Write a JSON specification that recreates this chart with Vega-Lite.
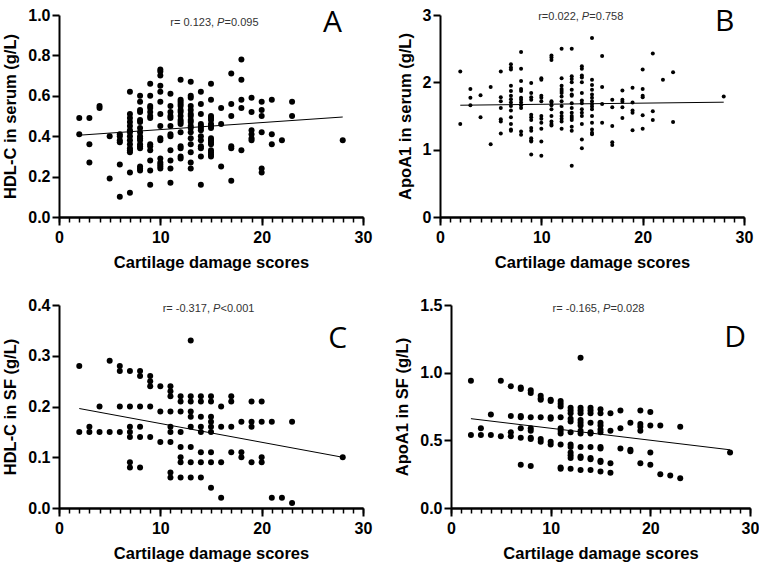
{
  "$schema": "https://vega.github.io/schema/vega-lite/v6.json",
  "background": "white",
  "padding": {"left": 2, "top": 7, "right": 0, "bottom": 0},
  "config": {
    "view": {"stroke": null},
    "font": "Liberation Sans",
    "axis": {
      "grid": false,
      "domainColor": "black",
      "domainWidth": 2,
      "tickColor": "black",
      "tickWidth": 2,
      "labelFont": "Liberation Sans",
      "labelFontWeight": "bold",
      "labelFontSize": 16,
      "labelColor": "black",
      "titleFont": "Liberation Sans",
      "titleFontWeight": "bold",
      "titleFontSize": 16.5,
      "titleColor": "black",
      "labelOverlap": false,
      "labelFlush": false
    }
  },
  "datasets": {
    "A": [
      {"score":2,"level":0.49},{"score":2,"level":0.41},
      {"score":3,"level":0.49},{"score":3,"level":0.36},{"score":3,"level":0.27},
      {"score":4,"level":0.55},{"score":4,"level":0.54},
      {"score":5,"level":0.40},{"score":5,"level":0.19},
      {"score":6,"level":0.41},{"score":6,"level":0.40},{"score":6,"level":0.38},{"score":6,"level":0.37},{"score":6,"level":0.26},{"score":6,"level":0.10},
      {"score":7,"level":0.62},{"score":7,"level":0.51},{"score":7,"level":0.49},{"score":7,"level":0.47},{"score":7,"level":0.45},{"score":7,"level":0.43},{"score":7,"level":0.42},{"score":7,"level":0.40},{"score":7,"level":0.38},{"score":7,"level":0.36},{"score":7,"level":0.34},{"score":7,"level":0.33},{"score":7,"level":0.32},{"score":7,"level":0.22},{"score":7,"level":0.12},
      {"score":8,"level":0.60},{"score":8,"level":0.57},{"score":8,"level":0.53},{"score":8,"level":0.52},{"score":8,"level":0.48},{"score":8,"level":0.47},{"score":8,"level":0.44},{"score":8,"level":0.42},{"score":8,"level":0.40},{"score":8,"level":0.39},{"score":8,"level":0.38},{"score":8,"level":0.36},{"score":8,"level":0.35},{"score":8,"level":0.34},{"score":8,"level":0.25},{"score":8,"level":0.24},{"score":8,"level":0.23},
      {"score":9,"level":0.66},{"score":9,"level":0.60},{"score":9,"level":0.55},{"score":9,"level":0.54},{"score":9,"level":0.52},{"score":9,"level":0.50},{"score":9,"level":0.49},{"score":9,"level":0.36},{"score":9,"level":0.35},{"score":9,"level":0.33},{"score":9,"level":0.28},{"score":9,"level":0.23},{"score":9,"level":0.16},
      {"score":10,"level":0.73},{"score":10,"level":0.72},{"score":10,"level":0.70},{"score":10,"level":0.65},{"score":10,"level":0.62},{"score":10,"level":0.57},{"score":10,"level":0.51},{"score":10,"level":0.45},{"score":10,"level":0.39},{"score":10,"level":0.38},{"score":10,"level":0.29},{"score":10,"level":0.27},{"score":10,"level":0.26},{"score":10,"level":0.25},{"score":10,"level":0.24},
      {"score":11,"level":0.61},{"score":11,"level":0.55},{"score":11,"level":0.52},{"score":11,"level":0.50},{"score":11,"level":0.49},{"score":11,"level":0.45},{"score":11,"level":0.41},{"score":11,"level":0.40},{"score":11,"level":0.33},{"score":11,"level":0.28},{"score":11,"level":0.24},{"score":11,"level":0.17},
      {"score":12,"level":0.68},{"score":12,"level":0.58},{"score":12,"level":0.57},{"score":12,"level":0.56},{"score":12,"level":0.55},{"score":12,"level":0.53},{"score":12,"level":0.52},{"score":12,"level":0.50},{"score":12,"level":0.48},{"score":12,"level":0.47},{"score":12,"level":0.46},{"score":12,"level":0.42},{"score":12,"level":0.35},{"score":12,"level":0.34},{"score":12,"level":0.30},{"score":12,"level":0.29},
      {"score":13,"level":0.67},{"score":13,"level":0.60},{"score":13,"level":0.59},{"score":13,"level":0.55},{"score":13,"level":0.53},{"score":13,"level":0.51},{"score":13,"level":0.50},{"score":13,"level":0.48},{"score":13,"level":0.47},{"score":13,"level":0.45},{"score":13,"level":0.44},{"score":13,"level":0.42},{"score":13,"level":0.39},{"score":13,"level":0.36},{"score":13,"level":0.32},{"score":13,"level":0.27},{"score":13,"level":0.24},
      {"score":14,"level":0.62},{"score":14,"level":0.56},{"score":14,"level":0.51},{"score":14,"level":0.46},{"score":14,"level":0.45},{"score":14,"level":0.44},{"score":14,"level":0.43},{"score":14,"level":0.40},{"score":14,"level":0.38},{"score":14,"level":0.35},{"score":14,"level":0.34},{"score":14,"level":0.30},{"score":14,"level":0.16},
      {"score":15,"level":0.66},{"score":15,"level":0.58},{"score":15,"level":0.50},{"score":15,"level":0.49},{"score":15,"level":0.48},{"score":15,"level":0.46},{"score":15,"level":0.45},{"score":15,"level":0.44},{"score":15,"level":0.39},{"score":15,"level":0.38},{"score":15,"level":0.37},{"score":15,"level":0.36},{"score":15,"level":0.33},{"score":15,"level":0.32},{"score":15,"level":0.31},{"score":15,"level":0.30},
      {"score":16,"level":0.54},{"score":16,"level":0.46},{"score":16,"level":0.25},
      {"score":17,"level":0.71},{"score":17,"level":0.56},{"score":17,"level":0.50},{"score":17,"level":0.35},{"score":17,"level":0.34},{"score":17,"level":0.18},
      {"score":18,"level":0.78},{"score":18,"level":0.68},{"score":18,"level":0.58},{"score":18,"level":0.54},{"score":18,"level":0.33},
      {"score":19,"level":0.59},{"score":19,"level":0.52},{"score":19,"level":0.43},{"score":19,"level":0.41},{"score":19,"level":0.39},{"score":19,"level":0.38},
      {"score":20,"level":0.57},{"score":20,"level":0.53},{"score":20,"level":0.50},{"score":20,"level":0.42},{"score":20,"level":0.24},{"score":20,"level":0.22},
      {"score":21,"level":0.58},{"score":21,"level":0.41},{"score":21,"level":0.36},
      {"score":22,"level":0.38},
      {"score":23,"level":0.57},{"score":23,"level":0.50},
      {"score":28,"level":0.38}
    ],
    "B": [
      {"score":2,"level":2.16},{"score":2,"level":1.38},
      {"score":3,"level":1.90},{"score":3,"level":1.77},{"score":3,"level":1.66},
      {"score":4,"level":1.81},{"score":4,"level":1.48},
      {"score":5,"level":1.93},{"score":5,"level":1.08},
      {"score":6,"level":2.16},{"score":6,"level":1.78},{"score":6,"level":1.72},{"score":6,"level":1.62},{"score":6,"level":1.45},{"score":6,"level":1.42},{"score":6,"level":1.24},
      {"score":7,"level":2.27},{"score":7,"level":2.22},{"score":7,"level":2.19},{"score":7,"level":1.95},{"score":7,"level":1.87},{"score":7,"level":1.80},{"score":7,"level":1.75},{"score":7,"level":1.70},{"score":7,"level":1.65},{"score":7,"level":1.58},{"score":7,"level":1.48},{"score":7,"level":1.38},{"score":7,"level":1.30},{"score":7,"level":1.28},
      {"score":8,"level":2.45},{"score":8,"level":2.20},{"score":8,"level":2.02},{"score":8,"level":1.90},{"score":8,"level":1.87},{"score":8,"level":1.77},{"score":8,"level":1.74},{"score":8,"level":1.70},{"score":8,"level":1.66},{"score":8,"level":1.62},{"score":8,"level":1.27},{"score":8,"level":1.22},
      {"score":9,"level":1.99},{"score":9,"level":1.84},{"score":9,"level":1.78},{"score":9,"level":1.74},{"score":9,"level":1.52},{"score":9,"level":1.48},{"score":9,"level":1.44},{"score":9,"level":1.32},{"score":9,"level":1.28},{"score":9,"level":1.17},{"score":9,"level":1.14},{"score":9,"level":1.12},{"score":9,"level":0.93},
      {"score":10,"level":2.06},{"score":10,"level":2.04},{"score":10,"level":1.80},{"score":10,"level":1.77},{"score":10,"level":1.72},{"score":10,"level":1.50},{"score":10,"level":1.46},{"score":10,"level":1.40},{"score":10,"level":1.31},{"score":10,"level":1.12},{"score":10,"level":0.91},
      {"score":11,"level":2.40},{"score":11,"level":2.37},{"score":11,"level":2.33},{"score":11,"level":1.72},{"score":11,"level":1.70},{"score":11,"level":1.66},{"score":11,"level":1.60},{"score":11,"level":1.50},{"score":11,"level":1.42},{"score":11,"level":1.38},{"score":11,"level":1.36},
      {"score":12,"level":2.50},{"score":12,"level":2.06},{"score":12,"level":1.95},{"score":12,"level":1.90},{"score":12,"level":1.87},{"score":12,"level":1.84},{"score":12,"level":1.79},{"score":12,"level":1.72},{"score":12,"level":1.65},{"score":12,"level":1.55},{"score":12,"level":1.50},{"score":12,"level":1.46},{"score":12,"level":1.42},{"score":12,"level":1.31},
      {"score":13,"level":2.50},{"score":13,"level":2.09},{"score":13,"level":2.05},{"score":13,"level":2.00},{"score":13,"level":1.89},{"score":13,"level":1.82},{"score":13,"level":1.80},{"score":13,"level":1.69},{"score":13,"level":1.62},{"score":13,"level":1.55},{"score":13,"level":1.50},{"score":13,"level":1.47},{"score":13,"level":1.44},{"score":13,"level":1.34},{"score":13,"level":1.28},{"score":13,"level":0.76},
      {"score":14,"level":2.24},{"score":14,"level":2.20},{"score":14,"level":2.10},{"score":14,"level":2.07},{"score":14,"level":2.00},{"score":14,"level":1.84},{"score":14,"level":1.73},{"score":14,"level":1.69},{"score":14,"level":1.60},{"score":14,"level":1.55},{"score":14,"level":1.50},{"score":14,"level":1.38},{"score":14,"level":1.15},{"score":14,"level":1.02},
      {"score":15,"level":2.66},{"score":15,"level":2.04},{"score":15,"level":1.96},{"score":15,"level":1.89},{"score":15,"level":1.82},{"score":15,"level":1.77},{"score":15,"level":1.72},{"score":15,"level":1.68},{"score":15,"level":1.64},{"score":15,"level":1.60},{"score":15,"level":1.50},{"score":15,"level":1.40},{"score":15,"level":1.30},{"score":15,"level":1.25},{"score":15,"level":1.23},
      {"score":16,"level":2.39},{"score":16,"level":1.93},{"score":16,"level":1.68},{"score":16,"level":1.40},
      {"score":17,"level":1.74},{"score":17,"level":1.63},{"score":17,"level":1.35},{"score":17,"level":1.11},{"score":17,"level":1.07},
      {"score":18,"level":1.88},{"score":18,"level":1.74},{"score":18,"level":1.71},{"score":18,"level":1.63},{"score":18,"level":1.47},
      {"score":19,"level":1.92},{"score":19,"level":1.70},{"score":19,"level":1.58},{"score":19,"level":1.55},{"score":19,"level":1.29},
      {"score":20,"level":2.19},{"score":20,"level":1.90},{"score":20,"level":1.80},{"score":20,"level":1.78},{"score":20,"level":1.51},{"score":20,"level":1.31},
      {"score":21,"level":2.43},{"score":21,"level":1.57},{"score":21,"level":1.44},
      {"score":22,"level":2.04},
      {"score":23,"level":2.15},{"score":23,"level":1.41},
      {"score":28,"level":1.79}
    ],
    "C": [
      {"score":2,"level":0.28},{"score":2,"level":0.15},
      {"score":3,"level":0.16},{"score":3,"level":0.15},
      {"score":4,"level":0.20},{"score":4,"level":0.15},
      {"score":5,"level":0.29},{"score":5,"level":0.15},
      {"score":6,"level":0.28},{"score":6,"level":0.27},{"score":6,"level":0.20},{"score":6,"level":0.15},
      {"score":7,"level":0.27},{"score":7,"level":0.20},{"score":7,"level":0.16},{"score":7,"level":0.15},{"score":7,"level":0.14},{"score":7,"level":0.09},{"score":7,"level":0.08},
      {"score":8,"level":0.27},{"score":8,"level":0.26},{"score":8,"level":0.20},{"score":8,"level":0.16},{"score":8,"level":0.14},{"score":8,"level":0.08},
      {"score":9,"level":0.26},{"score":9,"level":0.25},{"score":9,"level":0.24},{"score":9,"level":0.20},{"score":9,"level":0.14},
      {"score":10,"level":0.24},{"score":10,"level":0.19},{"score":10,"level":0.13},
      {"score":11,"level":0.24},{"score":11,"level":0.23},{"score":11,"level":0.22},{"score":11,"level":0.19},{"score":11,"level":0.16},{"score":11,"level":0.15},{"score":11,"level":0.13},{"score":11,"level":0.07},{"score":11,"level":0.06},
      {"score":12,"level":0.22},{"score":12,"level":0.21},{"score":12,"level":0.19},{"score":12,"level":0.15},{"score":12,"level":0.12},{"score":12,"level":0.10},{"score":12,"level":0.09},{"score":12,"level":0.06},
      {"score":13,"level":0.33},{"score":13,"level":0.22},{"score":13,"level":0.21},{"score":13,"level":0.19},{"score":13,"level":0.18},{"score":13,"level":0.16},{"score":13,"level":0.12},{"score":13,"level":0.09},{"score":13,"level":0.06},
      {"score":14,"level":0.22},{"score":14,"level":0.21},{"score":14,"level":0.18},{"score":14,"level":0.16},{"score":14,"level":0.15},{"score":14,"level":0.11},{"score":14,"level":0.09},{"score":14,"level":0.06},
      {"score":15,"level":0.22},{"score":15,"level":0.21},{"score":15,"level":0.18},{"score":15,"level":0.17},{"score":15,"level":0.16},{"score":15,"level":0.15},{"score":15,"level":0.11},{"score":15,"level":0.09},{"score":15,"level":0.04},
      {"score":16,"level":0.20},{"score":16,"level":0.16},{"score":16,"level":0.09},{"score":16,"level":0.02},
      {"score":17,"level":0.22},{"score":17,"level":0.21},{"score":17,"level":0.16},{"score":17,"level":0.11},
      {"score":18,"level":0.17},{"score":18,"level":0.11},{"score":18,"level":0.10},
      {"score":19,"level":0.21},{"score":19,"level":0.17},{"score":19,"level":0.16},{"score":19,"level":0.09},
      {"score":20,"level":0.21},{"score":20,"level":0.17},{"score":20,"level":0.10},{"score":20,"level":0.09},
      {"score":21,"level":0.17},{"score":21,"level":0.02},
      {"score":22,"level":0.02},
      {"score":23,"level":0.17},{"score":23,"level":0.01},
      {"score":28,"level":0.10}
    ],
    "D": [
      {"score":2,"level":0.94},{"score":2,"level":0.54},
      {"score":3,"level":0.59},{"score":3,"level":0.54},
      {"score":4,"level":0.69},{"score":4,"level":0.54},
      {"score":5,"level":0.94},{"score":5,"level":0.53},
      {"score":6,"level":0.90},{"score":6,"level":0.68},{"score":6,"level":0.56},{"score":6,"level":0.53},
      {"score":7,"level":0.89},{"score":7,"level":0.88},{"score":7,"level":0.68},{"score":7,"level":0.67},{"score":7,"level":0.59},{"score":7,"level":0.52},{"score":7,"level":0.32},
      {"score":8,"level":0.87},{"score":8,"level":0.85},{"score":8,"level":0.67},{"score":8,"level":0.59},{"score":8,"level":0.57},{"score":8,"level":0.52},{"score":8,"level":0.51},{"score":8,"level":0.31},
      {"score":9,"level":0.83},{"score":9,"level":0.81},{"score":9,"level":0.80},{"score":9,"level":0.67},{"score":9,"level":0.51},{"score":9,"level":0.49},
      {"score":10,"level":0.80},{"score":10,"level":0.79},{"score":10,"level":0.67},{"score":10,"level":0.66},{"score":10,"level":0.49},{"score":10,"level":0.47},
      {"score":11,"level":0.79},{"score":11,"level":0.77},{"score":11,"level":0.75},{"score":11,"level":0.67},{"score":11,"level":0.59},{"score":11,"level":0.57},{"score":11,"level":0.55},{"score":11,"level":0.47},{"score":11,"level":0.30},{"score":11,"level":0.29},
      {"score":12,"level":0.74},{"score":12,"level":0.72},{"score":12,"level":0.70},{"score":12,"level":0.66},{"score":12,"level":0.64},{"score":12,"level":0.56},{"score":12,"level":0.47},{"score":12,"level":0.45},{"score":12,"level":0.41},{"score":12,"level":0.39},{"score":12,"level":0.37},{"score":12,"level":0.29},
      {"score":13,"level":1.11},{"score":13,"level":0.74},{"score":13,"level":0.72},{"score":13,"level":0.70},{"score":13,"level":0.65},{"score":13,"level":0.63},{"score":13,"level":0.61},{"score":13,"level":0.57},{"score":13,"level":0.55},{"score":13,"level":0.45},{"score":13,"level":0.38},{"score":13,"level":0.37},{"score":13,"level":0.28},
      {"score":14,"level":0.74},{"score":14,"level":0.72},{"score":14,"level":0.70},{"score":14,"level":0.63},{"score":14,"level":0.56},{"score":14,"level":0.55},{"score":14,"level":0.45},{"score":14,"level":0.37},{"score":14,"level":0.36},{"score":14,"level":0.28},
      {"score":15,"level":0.73},{"score":15,"level":0.70},{"score":15,"level":0.63},{"score":15,"level":0.61},{"score":15,"level":0.58},{"score":15,"level":0.56},{"score":15,"level":0.45},{"score":15,"level":0.44},{"score":15,"level":0.35},{"score":15,"level":0.34},{"score":15,"level":0.27},
      {"score":16,"level":0.70},{"score":16,"level":0.57},{"score":16,"level":0.33},{"score":16,"level":0.26},
      {"score":17,"level":0.72},{"score":17,"level":0.59},{"score":17,"level":0.44},
      {"score":18,"level":0.63},{"score":18,"level":0.43},{"score":18,"level":0.42},
      {"score":19,"level":0.72},{"score":19,"level":0.62},{"score":19,"level":0.60},{"score":19,"level":0.57},{"score":19,"level":0.33},
      {"score":20,"level":0.71},{"score":20,"level":0.61},{"score":20,"level":0.41},{"score":20,"level":0.32},
      {"score":21,"level":0.61},{"score":21,"level":0.25},
      {"score":22,"level":0.24},
      {"score":23,"level":0.60},{"score":23,"level":0.22},
      {"score":28,"level":0.41}
    ],
    "fitA": [{"score":2,"level":0.405},{"score":28,"level":0.495}],
    "fitB": [{"score":2,"level":1.66},{"score":28,"level":1.705}],
    "fitC": [{"score":2,"level":0.196},{"score":28,"level":0.100}],
    "fitD": [{"score":2,"level":0.66},{"score":28,"level":0.43}],
    "noteA": [{"score":15.6,"level":0.962,"r":"r= 0.123,","p":"=0.095","panel":"A","lx":27.0,"ly":0.918}],
    "noteB": [{"score":14.0,"level":2.975,"r":"r=0.022,","p":"=0.758","panel":"B","lx":28.1,"ly":2.755}],
    "noteC": [{"score":15.2,"level":0.3915,"r":"r= -0.317,","p":"<0.001","panel":"C","lx":27.5,"ly":0.315}],
    "noteD": [{"score":15.25,"level":1.468,"r":"r= -0.165,","p":"=0.028","panel":"D","lx":28.5,"ly":1.19}]
  },
  "spacing": 26,
  "vconcat": [
    {
      "spacing": 25,
      "hconcat": [
        {
          "width": 304, "height": 202,
          "resolve": {"axis": {"x": "independent"}},
          "layer": [
            {"data": {"name": "A"}, "mark": {"type": "circle", "color": "black", "opacity": 1, "size": 36},
             "encoding": {
               "x": {"field": "score", "type": "quantitative", "scale": {"domain": [0, 30], "nice": false},
                     "axis": {"orient": "bottom", "values": [0,1,2,3,4,5,6,7,8,9,10,11,12,13,14,15,16,17,18,19,20,21,22,23,24,25,26,27,28,29,30], "labels": false, "tickSize": 5, "tickWidth": 1.5, "title": null}},
               "y": {"field": "level", "type": "quantitative", "title": "HDL-C in serum (g/L)", "scale": {"domain": [0, 1], "nice": false},
                     "axis": {"values": [0, 0.2, 0.4, 0.6, 0.8, 1.0], "format": ".1f", "tickSize": 7, "labelPadding": 2, "titlePadding": 9}}
             }},
            {"data": {"name": "fitA"}, "mark": {"type": "line", "color": "black", "strokeWidth": 1},
             "encoding": {"x": {"field": "score", "type": "quantitative", "title": "Cartilage damage scores",
                     "axis": {"orient": "bottom", "values": [0, 10, 20, 30], "tickSize": 8, "labelPadding": 4, "titlePadding": 9}},
                          "y": {"field": "level", "type": "quantitative"}}},
            {"data": {"name": "noteA"}, "mark": {"type": "text", "align": "right", "baseline": "middle", "fontSize": 11, "color": "#333", "dx": -3},
             "encoding": {"x": {"field": "score", "type": "quantitative", "axis": null}, "y": {"field": "level", "type": "quantitative"}, "text": {"field": "r"}}},
            {"data": {"name": "noteA"}, "mark": {"type": "text", "align": "left", "baseline": "middle", "fontSize": 11, "fontStyle": "italic", "color": "#333", "text": "P"},
             "encoding": {"x": {"field": "score", "type": "quantitative", "axis": null}, "y": {"field": "level", "type": "quantitative"}}},
            {"data": {"name": "noteA"}, "mark": {"type": "text", "align": "left", "baseline": "middle", "fontSize": 11, "color": "#333", "dx": 7.5},
             "encoding": {"x": {"field": "score", "type": "quantitative", "axis": null}, "y": {"field": "level", "type": "quantitative"}, "text": {"field": "p"}}},
            {"data": {"name": "noteA"}, "mark": {"type": "text", "align": "center", "baseline": "alphabetic", "font": "Open Sans", "fontSize": 30, "color": "black"},
             "encoding": {"x": {"field": "lx", "type": "quantitative", "axis": null}, "y": {"field": "ly", "type": "quantitative"}, "text": {"field": "panel"}}}
          ]
        },
        {
          "width": 304, "height": 202,
          "resolve": {"axis": {"x": "independent"}},
          "layer": [
            {"data": {"name": "B"}, "mark": {"type": "circle", "color": "black", "opacity": 1, "size": 16},
             "encoding": {
               "x": {"field": "score", "type": "quantitative", "scale": {"domain": [0, 30], "nice": false},
                     "axis": {"orient": "bottom", "values": [0,1,2,3,4,5,6,7,8,9,10,11,12,13,14,15,16,17,18,19,20,21,22,23,24,25,26,27,28,29,30], "labels": false, "tickSize": 5, "tickWidth": 1.5, "title": null}},
               "y": {"field": "level", "type": "quantitative", "title": "ApoA1 in serum (g/L)", "scale": {"domain": [0, 3], "nice": false},
                     "axis": {"values": [0, 1, 2, 3], "format": "d", "tickSize": 7, "labelPadding": 2, "titlePadding": 9}}
             }},
            {"data": {"name": "fitB"}, "mark": {"type": "line", "color": "black", "strokeWidth": 1},
             "encoding": {"x": {"field": "score", "type": "quantitative", "title": "Cartilage damage scores",
                     "axis": {"orient": "bottom", "values": [0, 10, 20, 30], "tickSize": 8, "labelPadding": 4, "titlePadding": 9}},
                          "y": {"field": "level", "type": "quantitative"}}},
            {"data": {"name": "noteB"}, "mark": {"type": "text", "align": "right", "baseline": "middle", "fontSize": 11, "color": "#333", "dx": -3},
             "encoding": {"x": {"field": "score", "type": "quantitative", "axis": null}, "y": {"field": "level", "type": "quantitative"}, "text": {"field": "r"}}},
            {"data": {"name": "noteB"}, "mark": {"type": "text", "align": "left", "baseline": "middle", "fontSize": 11, "fontStyle": "italic", "color": "#333", "text": "P"},
             "encoding": {"x": {"field": "score", "type": "quantitative", "axis": null}, "y": {"field": "level", "type": "quantitative"}}},
            {"data": {"name": "noteB"}, "mark": {"type": "text", "align": "left", "baseline": "middle", "fontSize": 11, "color": "#333", "dx": 7.5},
             "encoding": {"x": {"field": "score", "type": "quantitative", "axis": null}, "y": {"field": "level", "type": "quantitative"}, "text": {"field": "p"}}},
            {"data": {"name": "noteB"}, "mark": {"type": "text", "align": "center", "baseline": "alphabetic", "font": "Open Sans", "fontSize": 30, "color": "black"},
             "encoding": {"x": {"field": "lx", "type": "quantitative", "axis": null}, "y": {"field": "ly", "type": "quantitative"}, "text": {"field": "panel"}}}
          ]
        }
      ]
    },
    {
      "spacing": 22,
      "hconcat": [
        {
          "width": 304, "height": 203,
          "resolve": {"axis": {"x": "independent"}},
          "layer": [
            {"data": {"name": "C"}, "mark": {"type": "circle", "color": "black", "opacity": 1, "size": 36},
             "encoding": {
               "x": {"field": "score", "type": "quantitative", "scale": {"domain": [0, 30], "nice": false},
                     "axis": {"orient": "bottom", "values": [0,1,2,3,4,5,6,7,8,9,10,11,12,13,14,15,16,17,18,19,20,21,22,23,24,25,26,27,28,29,30], "labels": false, "tickSize": 5, "tickWidth": 1.5, "title": null}},
               "y": {"field": "level", "type": "quantitative", "title": "HDL-C in SF (g/L)", "scale": {"domain": [0, 0.4], "nice": false},
                     "axis": {"values": [0, 0.1, 0.2, 0.3, 0.4], "format": ".1f", "tickSize": 7, "labelPadding": 2, "titlePadding": 9}}
             }},
            {"data": {"name": "fitC"}, "mark": {"type": "line", "color": "black", "strokeWidth": 1},
             "encoding": {"x": {"field": "score", "type": "quantitative", "title": "Cartilage damage scores",
                     "axis": {"orient": "bottom", "values": [0, 10, 20, 30], "tickSize": 8, "labelPadding": 4, "titlePadding": 9}},
                          "y": {"field": "level", "type": "quantitative"}}},
            {"data": {"name": "noteC"}, "mark": {"type": "text", "align": "right", "baseline": "middle", "fontSize": 11, "color": "#333", "dx": -3},
             "encoding": {"x": {"field": "score", "type": "quantitative", "axis": null}, "y": {"field": "level", "type": "quantitative"}, "text": {"field": "r"}}},
            {"data": {"name": "noteC"}, "mark": {"type": "text", "align": "left", "baseline": "middle", "fontSize": 11, "fontStyle": "italic", "color": "#333", "text": "P"},
             "encoding": {"x": {"field": "score", "type": "quantitative", "axis": null}, "y": {"field": "level", "type": "quantitative"}}},
            {"data": {"name": "noteC"}, "mark": {"type": "text", "align": "left", "baseline": "middle", "fontSize": 11, "color": "#333", "dx": 7.5},
             "encoding": {"x": {"field": "score", "type": "quantitative", "axis": null}, "y": {"field": "level", "type": "quantitative"}, "text": {"field": "p"}}},
            {"data": {"name": "noteC"}, "mark": {"type": "text", "align": "center", "baseline": "alphabetic", "font": "Open Sans", "fontSize": 30, "color": "black"},
             "encoding": {"x": {"field": "lx", "type": "quantitative", "axis": null}, "y": {"field": "ly", "type": "quantitative"}, "text": {"field": "panel"}}}
          ]
        },
        {
          "width": 299, "height": 203,
          "resolve": {"axis": {"x": "independent"}},
          "layer": [
            {"data": {"name": "D"}, "mark": {"type": "circle", "color": "black", "opacity": 1, "size": 36},
             "encoding": {
               "x": {"field": "score", "type": "quantitative", "scale": {"domain": [0, 30], "nice": false},
                     "axis": {"orient": "bottom", "values": [0,1,2,3,4,5,6,7,8,9,10,11,12,13,14,15,16,17,18,19,20,21,22,23,24,25,26,27,28,29,30], "labels": false, "tickSize": 5, "tickWidth": 1.5, "title": null}},
               "y": {"field": "level", "type": "quantitative", "title": "ApoA1 in SF (g/L)", "scale": {"domain": [0, 1.5], "nice": false},
                     "axis": {"values": [0, 0.5, 1.0, 1.5], "format": ".1f", "tickSize": 7, "labelPadding": 2, "titlePadding": 9}}
             }},
            {"data": {"name": "fitD"}, "mark": {"type": "line", "color": "black", "strokeWidth": 1},
             "encoding": {"x": {"field": "score", "type": "quantitative", "title": "Cartilage damage scores",
                     "axis": {"orient": "bottom", "values": [0, 10, 20, 30], "tickSize": 8, "labelPadding": 4, "titlePadding": 9}},
                          "y": {"field": "level", "type": "quantitative"}}},
            {"data": {"name": "noteD"}, "mark": {"type": "text", "align": "right", "baseline": "middle", "fontSize": 11, "color": "#333", "dx": -3},
             "encoding": {"x": {"field": "score", "type": "quantitative", "axis": null}, "y": {"field": "level", "type": "quantitative"}, "text": {"field": "r"}}},
            {"data": {"name": "noteD"}, "mark": {"type": "text", "align": "left", "baseline": "middle", "fontSize": 11, "fontStyle": "italic", "color": "#333", "text": "P"},
             "encoding": {"x": {"field": "score", "type": "quantitative", "axis": null}, "y": {"field": "level", "type": "quantitative"}}},
            {"data": {"name": "noteD"}, "mark": {"type": "text", "align": "left", "baseline": "middle", "fontSize": 11, "color": "#333", "dx": 7.5},
             "encoding": {"x": {"field": "score", "type": "quantitative", "axis": null}, "y": {"field": "level", "type": "quantitative"}, "text": {"field": "p"}}},
            {"data": {"name": "noteD"}, "mark": {"type": "text", "align": "center", "baseline": "alphabetic", "font": "Open Sans", "fontSize": 30, "color": "black"},
             "encoding": {"x": {"field": "lx", "type": "quantitative", "axis": null}, "y": {"field": "ly", "type": "quantitative"}, "text": {"field": "panel"}}}
          ]
        }
      ]
    }
  ]
}
